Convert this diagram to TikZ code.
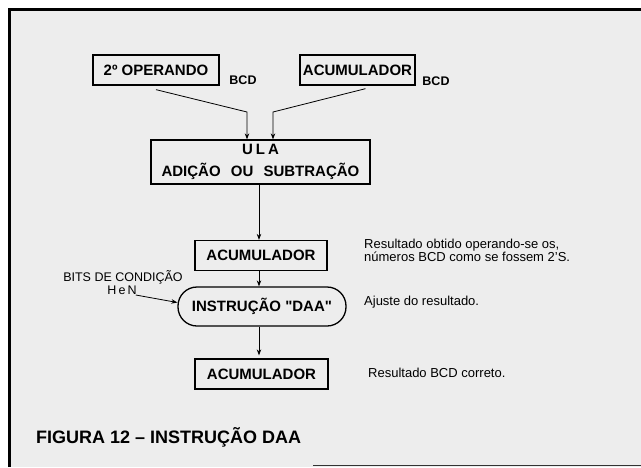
\documentclass[tikz,border=0pt]{standalone}
\usepackage{fontspec}
\setmainfont{Liberation Sans}
\usetikzlibrary{arrows.meta}
\definecolor{paper}{gray}{0.93}
\begin{document}
\begin{tikzpicture}[x=1pt,y=-1pt,
  boxlab/.style={font=\fontsize{15}{17}\selectfont\bfseries},
  stepbox/.style={draw, line width=1.3pt, inner sep=0pt, boxlab},
  small/.style={font=\fontsize{12.5}{13}\selectfont\bfseries, inner sep=0pt},
  note/.style={font=\fontsize{13}{11}\selectfont, inner sep=0pt, anchor=west, align=left},
  arr/.style={line width=0.8pt, -{Stealth[length=6pt,width=4.5pt]}},
  conn/.style={line width=0.8pt}]
\useasboundingbox (0,0) rectangle (641,467);
\fill[white] (0,0) rectangle (641,467);
\fill[paper] (9,9) rectangle (641,467);
% frame
\draw[line width=3.5pt] (9.5,467) -- (9.5,9.5) -- (641,9.5);
\draw[line width=1.8pt, black!80] (313,465.5) -- (641,465.5);

% top boxes
\node[stepbox, minimum width=126, minimum height=30] (op2) at (156,70) {2º OPERANDO};
\node[small] (bcd1) at (243,80) {BCD};
\node[stepbox, minimum width=115, minimum height=30] (acc1) at (357.5,70) {ACUMULADOR};
\node[small] (bcd2) at (436,81) {BCD};

% ULA
\node[stepbox, minimum width=219, minimum height=44, align=center] (ula) at (260.5,162)
  {U\hspace{3pt}L\hspace{3pt}A\\[5pt]ADIÇÃO\hspace{6pt} OU\hspace{6pt} SUBTRAÇÃO};

% lower chain
\node[stepbox, minimum width=132, minimum height=30] (acc2) at (261,255.5) {ACUMULADOR};
\node[stepbox, rounded corners=19pt, minimum width=168, minimum height=39] (daa) at (262,306.5) {INSTRUÇÃO \textquotedbl DAA\textquotedbl};
\node[stepbox, minimum width=133, minimum height=30] (acc3) at (261.5,374) {ACUMULADOR};

% notes
\node[note] (n1) at (364,250) {Resultado obtido operando-se os,\\números BCD como se fossem 2'S.};
\node[note] (n2) at (364,302) {Ajuste do resultado.};
\node[note] (n3) at (368,373) {Resultado BCD correto.};

% bits
\node[font=\fontsize{12.5}{13}\selectfont, inner sep=0pt] (bits) at (123,277) {BITS DE CONDIÇÃO};
\node[font=\fontsize{12.5}{13}\selectfont, inner sep=0pt] (hen) at (122,290) {H\,e\,N};

% caption
\node[font=\fontsize{18}{20}\selectfont\bfseries, anchor=west, inner sep=0pt] (cap) at (36,437) {FIGURA 12 -- INSTRUÇÃO DAA};

% connectors
\coordinate (k1) at (247,112);
\coordinate (k2) at (273,112);
\draw[arr] ([yshift=-4]op2.south) -- (k1) -- (k1 |- ula.north);
\draw[arr] ([xshift=8,yshift=-3]acc1.south) -- (k2) -- (k2 |- ula.north);
\draw[arr] ([xshift=-1.5]ula.south) -- ([xshift=-1.5]ula.south |- acc2.north);
\draw[arr] ([xshift=-2]acc2.south) -- ([xshift=-2]acc2.south |- daa.north);
\draw[arr] ([xshift=-3]daa.south) -- ([xshift=-3,yshift=3]daa.south |- acc3.north);
\draw[arr] ([xshift=-1,yshift=-5]hen.east) -- ([yshift=4]daa.west);
\end{tikzpicture}
\end{document}
